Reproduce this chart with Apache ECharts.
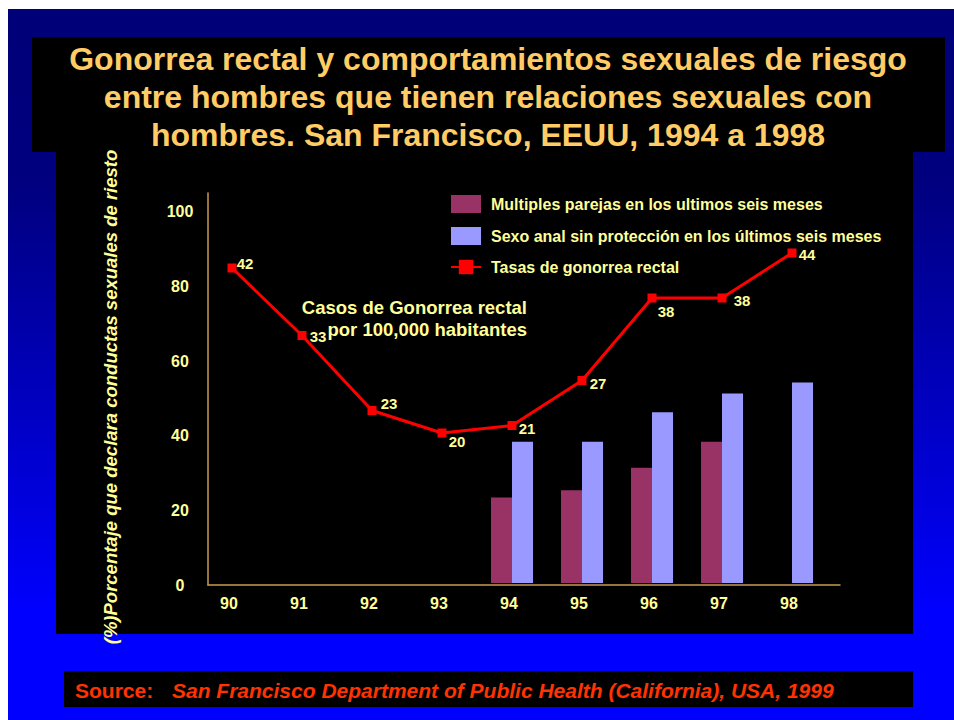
<!DOCTYPE html>
<html>
<head>
<meta charset="utf-8">
<script src="https://cdn.jsdelivr.net/npm/echarts@6/dist/echarts.min.js"></script>
<style>
  html, body { margin: 0; padding: 0; background: #fff; }
  #chart { width: 954px; height: 720px; }
</style>
</head>
<body>
<div id="chart"></div>
<script>
// datos
const years = ['90', '91', '92', '93', '94', '95', '96', '97', '98'];
const parejas = [null, null, null, null, 23, 25, 31, 38, null];          // Multiples parejas (%)
const sinProteccion = [null, null, null, null, 38, 38, 46, 51, 54];      // Sexo anal sin proteccion (%)
const tasas = [42, 33, 23, 20, 21, 27, 38, 38, 44];                      // casos por 100,000
const titleLines = [
  'Gonorrea rectal y comportamientos sexuales de riesgo',
  'entre hombres que tienen relaciones sexuales con',
  'hombres. San Francisco, EEUU, 1994 a 1998'
];

const FONT = '"Liberation Sans", Arial, sans-serif';
const YELLOW = '#FFFF99';
// desplazamiento de las etiquetas de la linea (px)
const labelOffsets = [[13, -5], [16, 1], [17, -7], [15, 8], [15, 3], [16, 3], [14, 13], [20, 2], [15, 1]];

const chart = echarts.init(document.getElementById('chart'), null, { renderer: 'svg' });

const bg = [
  {
    type: 'rect', z: -10, silent: true,
    shape: { x: 8, y: 9, width: 946, height: 711 },
    style: {
      fill: new echarts.graphic.LinearGradient(0, 0, 0, 1, [
        { offset: 0, color: '#000078' },
        { offset: 0.25, color: '#000080' },
        { offset: 0.85, color: '#0000FF' },
        { offset: 1, color: '#0000FF' }
      ])
    }
  },
  { type: 'rect', z: -9, silent: true, shape: { x: 32, y: 37, width: 913, height: 115 }, style: { fill: '#000' } },
  { type: 'rect', z: -9, silent: true, shape: { x: 56, y: 152, width: 857, height: 482 }, style: { fill: '#000' } },
  { type: 'rect', z: -9, silent: true, shape: { x: 64, y: 671, width: 849, height: 36 }, style: { fill: '#000' } }
];

const texts = [];
titleLines.forEach(function (t, i) {
  texts.push({
    type: 'text', z: 100, x: 488, y: 59 + i * 38,
    style: { text: t, fill: '#FFCC66', font: 'bold 32px ' + FONT, textAlign: 'center', textVerticalAlign: 'middle' }
  });
});
texts.push(
  { type: 'text', z: 100, x: 527, y: 307,
    style: { text: 'Casos de Gonorrea rectal', fill: YELLOW, font: 'bold 18.5px ' + FONT, textAlign: 'right', textVerticalAlign: 'middle' } },
  { type: 'text', z: 100, x: 527, y: 329,
    style: { text: 'por 100,000 habitantes', fill: YELLOW, font: 'bold 18.5px ' + FONT, textAlign: 'right', textVerticalAlign: 'middle' } },
  { type: 'text', z: 100, x: 110, y: 397, rotation: Math.PI / 2,
    style: { text: '(%)Porcentaje que declara conductas sexuales de riesto', fill: YELLOW, font: 'italic bold 18.5px ' + FONT, textAlign: 'center', textVerticalAlign: 'middle' } },
  { type: 'text', z: 100, x: 75, y: 690,
    style: { text: 'Source:', fill: '#FF3300', font: 'bold 21px ' + FONT, textAlign: 'left', textVerticalAlign: 'middle' } },
  { type: 'text', z: 100, x: 172, y: 690,
    style: { text: 'San Francisco Department of Public Health (California), USA, 1999', fill: '#FF3300', font: 'italic bold 21px ' + FONT, textAlign: 'left', textVerticalAlign: 'middle' } }
);

const lineData = tasas.map(function (v, i) {
  return { value: v, label: { offset: labelOffsets[i] } };
});

const option = {
  animation: false,
  graphic: { elements: bg.concat(texts) },
  legend: {
    orient: 'vertical',
    left: 445,
    top: 190,
    itemWidth: 30,
    itemHeight: 18,
    itemGap: 14,
    selectedMode: false,
    textStyle: { color: YELLOW, fontSize: 16, fontWeight: 'bold', fontFamily: FONT, padding: [0, 0, 0, 5] },
    data: [
      { name: 'Multiples parejas en los ultimos seis meses', icon: 'rect' },
      { name: 'Sexo anal sin protección en los últimos seis meses', icon: 'rect' },
      { name: 'Tasas de gonorrea rectal' }
    ]
  },
  grid: [
    { left: 197, top: 193, width: 630, height: 390 },   // datos
    { left: 208, top: 193, width: 632, height: 392 }    // marco de ejes
  ],
  xAxis: [
    {
      type: 'category', gridIndex: 0, data: years,
      axisLine: { show: false }, axisTick: { show: false },
      axisLabel: { color: YELLOW, fontSize: 16, fontWeight: 'bold', fontFamily: FONT, margin: 12, padding: [0, 6, 0, 0] }
    },
    {
      type: 'value', gridIndex: 1, min: 0, max: 1,
      axisLine: { show: true, lineStyle: { color: '#C89B50', width: 1.5 } },
      axisTick: { show: false }, axisLabel: { show: false }, splitLine: { show: false }
    }
  ],
  yAxis: [
    { type: 'value', gridIndex: 0, min: 0, max: 105, show: false },
    { type: 'value', gridIndex: 0, min: 0, max: 52, show: false },
    {
      type: 'value', gridIndex: 1, min: 0, max: 105, interval: 20,
      axisLine: { show: true, lineStyle: { color: '#C89B50', width: 1.5 } },
      axisTick: { show: false }, splitLine: { show: false },
      axisLabel: { color: YELLOW, fontSize: 16, fontWeight: 'bold', fontFamily: FONT, margin: 28, align: 'center', showMaxLabel: false }
    }
  ],
  series: [
    {
      name: 'Multiples parejas en los ultimos seis meses',
      type: 'bar', xAxisIndex: 0, yAxisIndex: 0,
      barWidth: 21, barGap: '0%',
      itemStyle: { color: '#993366' },
      data: parejas
    },
    {
      name: 'Sexo anal sin protección en los últimos seis meses',
      type: 'bar', xAxisIndex: 0, yAxisIndex: 0,
      barWidth: 21,
      itemStyle: { color: '#9999FF' },
      data: sinProteccion
    },
    {
      name: 'Tasas de gonorrea rectal',
      type: 'line', xAxisIndex: 0, yAxisIndex: 1, z: 5,
      symbol: 'rect', symbolSize: 9,
      lineStyle: { color: '#FF0000', width: 3 },
      itemStyle: { color: '#FF0000' },
      label: { show: true, position: 'inside', color: YELLOW, fontSize: 15, fontWeight: 'bold', fontFamily: FONT },
      data: lineData
    }
  ]
};

chart.setOption(option);
</script>
</body>
</html>
